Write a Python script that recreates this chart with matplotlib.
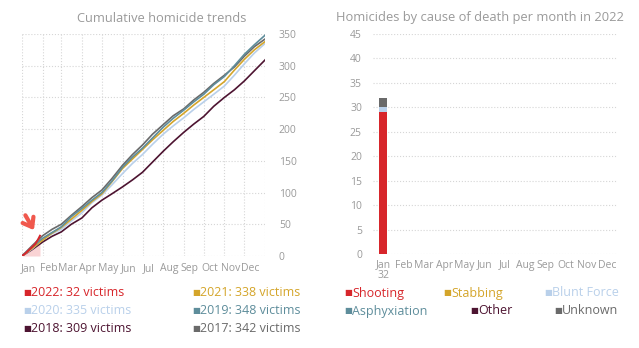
import numpy as np
import matplotlib.pyplot as plt

plt.rcParams['font.family'] = ['Open Sans', 'DejaVu Sans']

# cumulative homicides, sampled about twice a month
days = [0, 15, 31, 45, 59, 74, 90, 105, 120, 135, 151, 166, 181, 196, 212,
        227, 243, 258, 273, 288, 304, 319, 334, 349, 365]
y2019 = [0, 14, 28, 37, 46, 62, 75, 88, 100, 118, 140, 156, 170, 186, 203,
         217, 230, 243, 255, 270, 283, 300, 318, 333, 348]
y2017 = [0, 16, 32, 42, 50, 64, 78, 92, 104, 122, 143, 160, 175, 192, 207,
         221, 232, 246, 258, 272, 285, 298, 315, 330, 342]
y2021 = [0, 12, 25, 36, 45, 58, 72, 86, 98, 117, 138, 153, 168, 183, 198,
         212, 225, 238, 250, 262, 275, 293, 310, 325, 338]
y2020 = [0, 11, 26, 35, 42, 55, 68, 84, 96, 112, 130, 146, 160, 176, 192,
         205, 218, 231, 243, 255, 268, 285, 303, 320, 335]
y2018 = [0, 10, 22, 31, 38, 50, 60, 76, 88, 98, 109, 120, 132, 148, 165,
         180, 195, 208, 220, 236, 250, 262, 276, 292, 309]
days2022 = [0, 5, 10, 15, 20, 24, 27]
y2022 = [0, 4, 9, 14, 19, 26, 32]

months = ['Jan', 'Feb', 'Mar', 'Apr', 'May', 'Jun', 'Jul', 'Aug', 'Sep',
          'Oct', 'Nov', 'Dec']
month_starts = [0, 31, 59, 90, 120, 151, 181, 212, 243, 273, 304, 334, 365]

# 2022 by cause, per month (only January so far)
shooting = [29] + [0] * 11
stabbing = [0] * 12
blunt = [1] + [0] * 11
asphyx = [0] * 12
other = [0] * 12
unknown = [2] + [0] * 11
totals = ['32'] + [''] * 11

c22 = '#d7262b'
c21 = '#d4a52a'
c20 = '#b9d0ea'
c19 = '#5e8d9b'
c18 = '#4d1431'
c17 = '#6a6a6a'
grey = '#9a9a9a'
gridc = '#d6d6d6'

fig = plt.figure(figsize=(6.39, 3.48), dpi=100)

# ---- left: cumulative trends
ax = fig.add_axes([22 / 639, 1 - 256 / 348, 243 / 639, 222 / 348])
for y, c in [(y2018, c18), (y2020, c20), (y2021, c21), (y2017, c17), (y2019, c19)]:
    ax.plot(days, y, color=c, lw=1.2)
ax.fill_between(days2022, y2022, color='#f9d3d4', lw=0)
ax.plot(days2022, y2022, color=c22, lw=1.4)
ax.annotate('', xy=(20, 37), xytext=(3, 68),
            arrowprops=dict(arrowstyle='->, head_width=0.45, head_length=0.6',
                            color='#f0584d', lw=3))
ax.set_xlim(0, 365)
ax.set_ylim(0, 350)
ax.set_xticks(month_starts, minor=True)
ax.set_xticks([m + 9 for m in month_starts[:-1]])
ax.set_xticklabels(months)
ax.set_yticks(range(0, 351, 50))
ax.yaxis.tick_right()
ax.tick_params(axis='both', which='both', length=0, colors=grey, labelsize=7.5)
ax.tick_params(axis='y', pad=10)
ax.tick_params(axis='x', pad=5)
ax.grid(True, which='minor', axis='x', ls=':', color=gridc, lw=0.8)
ax.grid(True, which='major', axis='y', ls=':', color=gridc, lw=0.8)
for s in ax.spines.values():
    s.set_visible(False)
fig.text(162 / 639, 1 - 18 / 348, 'Cumulative homicide trends', color=grey,
         fontsize=9.3, ha='center', va='center')

# ---- right: by cause per month
bx = fig.add_axes([373 / 639, 1 - 254 / 348, 244 / 639, 220 / 348])
x = np.arange(12)
bottom = np.zeros(12)
for vals, c in [(shooting, c22), (stabbing, c21), (blunt, c20), (asphyx, c19),
                (other, c18), (unknown, c17)]:
    bx.bar(x, vals, bottom=bottom, width=0.4, color=c, lw=0)
    bottom += np.array(vals)
bx.set_xlim(-0.5, 11.5)
bx.set_ylim(0, 45)
bx.set_yticks(range(0, 46, 5))
bx.set_xticks(x)
bx.set_xticklabels([m + '\n' + t for m, t in zip(months, totals)],
                   linespacing=0.9, va='top')
bx.tick_params(axis='both', length=0, colors=grey, labelsize=7.5)
bx.tick_params(axis='y', pad=8)
bx.tick_params(axis='x', pad=4)
bx.grid(True, axis='y', ls=':', color=gridc, lw=0.8)
bx.set_axisbelow(True)
for s in bx.spines.values():
    s.set_visible(False)
fig.text(480 / 639, 1 - 18 / 348, 'Homicides by cause of death per month in 2022',
         color=grey, fontsize=9.3, ha='center', va='center')

# ---- legends
def key(px, py, label, c):
    fig.text(px / 639, 1 - py / 348, '\u25a0', color=c, fontsize=6,
             ha='left', va='center')
    fig.text((px + 8) / 639, 1 - py / 348, label, color=c, fontsize=9,
             ha='left', va='center')

left_keys = [(23, 293, '2022: 32 victims', c22), (192, 293, '2021: 338 victims', c21),
             (23, 311, '2020: 335 victims', c20), (192, 311, '2019: 348 victims', c19),
             (23, 329, '2018: 309 victims', c18), (192, 329, '2017: 342 victims', c17)]
for k in left_keys:
    key(*k)

right_keys = [(344, 293, 'Shooting', c22), (443, 293, 'Stabbing', c21),
              (544, 293, 'Blunt Force', c20), (344, 311, 'Asphyxiation', c19),
              (470, 311, 'Other', c18), (554, 311, 'Unknown', c17)]
for k in right_keys:
    key(*k)

fig.savefig('out.png', dpi=100)
